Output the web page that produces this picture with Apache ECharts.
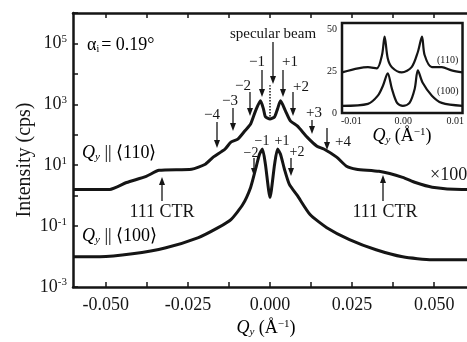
<!DOCTYPE html>
<html>
<head>
<meta charset="utf-8">
<script src="https://cdn.jsdelivr.net/npm/echarts@6/dist/echarts.min.js"></script>
<style>
  html, body { margin: 0; padding: 0; background: #fff; }
  #chart { width: 467px; height: 342px; }
</style>
</head>
<body>
<div id="chart"></div>
<script>
// main panel: Qy (1/A) and intensity (cps), Qy || <110> is shifted x100
var q110 = [-0.06, -0.0488, -0.0437, -0.0377, -0.0338, -0.0239, -0.0197, -0.0173, -0.0137, -0.0119, -0.0098, -0.0077, -0.0059, -0.0044, -0.0029, -0.0020, -0.0014, 0, 0.0014, 0.0023, 0.0032, 0.0047, 0.0062, 0.0083, 0.0113, 0.0143, 0.0164, 0.0203, 0.0233, 0.0263, 0.0332, 0.0404, 0.0443, 0.0494, 0.0584, 0.06];
var i110 = [1.6, 1.6, 2.7, 4.3, 6.8, 7.4, 10.8, 18.4, 33.8, 57.5, 72, 133, 227, 610, 1300, 710, 390, 330, 390, 710, 1300, 610, 285, 195, 84, 42, 34, 18.4, 9.3, 7.4, 6.3, 4.0, 2.7, 1.9, 1.6, 1.6];
var q100 = [-0.06, -0.0518, -0.0419, -0.0317, -0.0218, -0.0158, -0.0119, -0.0083, -0.0059, -0.0044, -0.0032, -0.0023, -0.0014, 0, 0.0014, 0.0023, 0.0032, 0.0044, 0.0059, 0.0083, 0.0122, 0.0173, 0.0242, 0.0323, 0.0404, 0.0494, 0.0584, 0.06];
var i100 = [0.0098, 0.0098, 0.0123, 0.0195, 0.042, 0.089, 0.164, 0.51, 1.87, 7.4, 23, 34, 10.8, 0.88, 10.8, 34, 23, 7.4, 2.35, 1.02, 0.24, 0.089, 0.036, 0.0167, 0.0098, 0.0078, 0.0078, 0.0078];
// specular beam (dotted)
var qSpec = [0, 0];
var iSpec = [400, 4200];

// inset: linear intensity
var qIn110 = [-0.0118, -0.0087, -0.0068, -0.0051, -0.0041, -0.0036, -0.0030, -0.0022, -0.0003, 0.0016, 0.0028, 0.0036, 0.0041, 0.0055, 0.0074, 0.0093, 0.0114];
var iIn110 = [24.4, 26.8, 27.5, 26.8, 34.8, 45.8, 32.9, 27.5, 24.4, 27.5, 36.6, 45.8, 34.8, 27.5, 27.5, 25.6, 24.4];
var qIn100 = [-0.0118, -0.0068, -0.0049, -0.0039, -0.0030, -0.0022, -0.0012, -0.0001, 0.0012, 0.0022, 0.0028, 0.0037, 0.0055, 0.0074, 0.0114];
var iIn100 = [4.3, 5.5, 10.4, 16.5, 23.8, 14.6, 6.1, 4.3, 6.1, 14.6, 25.6, 18.3, 10.4, 6.1, 4.3];

var xTicks = [-0.05, -0.0375, -0.025, -0.0125, 0, 0.0125, 0.025, 0.0375, 0.05];
var xLabels = [-0.05, -0.025, 0, 0.025, 0.05];
var insetXLabels = [-0.01, 0, 0.01];

function zip(a, b) {
    return a.map(function (v, i) { return [v, b[i]]; });
}

var INK = '#151515';
var SERIF = '"Liberation Serif", "Times New Roman", serif';

function txt(x, y, text, size, align) {
    return {
        type: 'text', x: x, y: y, z: 10,
        style: {
            text: text, fill: INK, font: size + 'px ' + SERIF,
            textAlign: align || 'center', textVerticalAlign: 'middle'
        }
    };
}

// vertical arrow from y1 to y2 (head at y2)
function arrow(x, y1, y2) {
    var d = y2 > y1 ? 1 : -1;
    return {
        type: 'group', z: 10,
        children: [
            { type: 'line', shape: { x1: x, y1: y1, x2: x, y2: y2 - d * 5 }, style: { stroke: INK, lineWidth: 1.3 } },
            { type: 'polygon', shape: { points: [[x - 3, y2 - d * 8], [x + 3, y2 - d * 8], [x, y2]] }, style: { fill: INK } }
        ]
    };
}

var subRich = {
    n: { fontSize: 18, fontFamily: SERIF, color: INK },
    q: { fontSize: 18, fontFamily: SERIF, fontStyle: 'italic', color: INK },
    sub: { fontSize: 11, fontFamily: SERIF, fontStyle: 'italic', color: INK, padding: [8, 0, 0, 0] },
    sup: { fontSize: 11, fontFamily: SERIF, color: INK, padding: [0, 0, 8, 0] }
};

var chart = echarts.init(document.getElementById('chart'));

var yName = txt(25, 160, 'Intensity (cps)', 20);
yName.rotation = Math.PI / 2;

var option = {
    backgroundColor: '#fff',
    animation: false,
    grid: [
        { left: 73, right: -5, top: 13, bottom: 55 },
        { left: 342, right: 4, top: 23, bottom: 229, show: true, backgroundColor: '#fff', borderColor: INK, borderWidth: 2.5, z: 5 }
    ],
    xAxis: [
        {
            type: 'value', gridIndex: 0, min: -0.06, max: 0.06,
            axisLine: { onZero: false, lineStyle: { color: INK, width: 2.5 } },
            axisTick: { inside: true, length: 5, customValues: xTicks, lineStyle: { color: INK, width: 1.5 } },
            axisLabel: {
                customValues: xLabels, margin: 9, color: INK, fontSize: 18, fontFamily: SERIF,
                formatter: function (v) { return v.toFixed(3); }
            },
            splitLine: { show: false }
        },
        {
            type: 'value', gridIndex: 0, position: 'top', min: -0.06, max: 0.06,
            axisLine: { onZero: false, lineStyle: { color: INK, width: 2.5 } },
            axisTick: { inside: true, length: 5, customValues: xTicks, lineStyle: { color: INK, width: 1.5 } },
            axisLabel: { show: false },
            splitLine: { show: false }
        },
        {
            type: 'value', gridIndex: 1, min: -0.0118, max: 0.0114,
            axisLine: { show: false, onZero: false },
            axisTick: { show: false },
            axisLabel: {
                customValues: insetXLabels, margin: 3, color: INK, fontSize: 10, fontFamily: SERIF,
                formatter: function (v) { return v.toFixed(2); }
            },
            splitLine: { show: false }
        }
    ],
    yAxis: [
        {
            type: 'log', gridIndex: 0, logBase: 10, min: 0.001, max: 1e6,
            axisLine: { onZero: false, lineStyle: { color: INK, width: 2.5 } },
            axisTick: { inside: true, length: 5, lineStyle: { color: INK, width: 1.5 } },
            axisLabel: {
                margin: 6, color: INK,
                formatter: function (v) {
                    var e = Math.round(Math.log10(v));
                    if (e % 2 === 0) return '';
                    return '{b|10}{s|' + e + '}';
                },
                rich: {
                    b: { fontSize: 18, fontFamily: SERIF, color: INK },
                    s: { fontSize: 11, fontFamily: SERIF, color: INK, padding: [0, 0, 9, 0] }
                }
            },
            splitLine: { show: false }
        },
        {
            type: 'value', gridIndex: 1, min: 0, max: 54, interval: 25,
            axisLine: { show: false, onZero: false },
            axisTick: { show: false },
            axisLabel: { margin: 5, color: INK, fontSize: 10, fontFamily: SERIF },
            splitLine: { show: false }
        }
    ],
    series: [
        {
            type: 'line', xAxisIndex: 0, yAxisIndex: 0, data: zip(q110, i110),
            showSymbol: false, smooth: 0.2, lineStyle: { color: INK, width: 3 }
        },
        {
            type: 'line', xAxisIndex: 0, yAxisIndex: 0, data: zip(q100, i100),
            showSymbol: false, smooth: 0.2, lineStyle: { color: INK, width: 3 }
        },
        {
            type: 'line', xAxisIndex: 0, yAxisIndex: 0, data: zip(qSpec, iSpec),
            showSymbol: false, lineStyle: { color: INK, width: 1.5, type: 'dotted' }
        },
        {
            type: 'line', xAxisIndex: 2, yAxisIndex: 1, data: zip(qIn110, iIn110),
            showSymbol: false, smooth: 0.3, lineStyle: { color: INK, width: 2.2 }, z: 6
        },
        {
            type: 'line', xAxisIndex: 2, yAxisIndex: 1, data: zip(qIn100, iIn100),
            showSymbol: false, smooth: 0.3, lineStyle: { color: INK, width: 2.2 }, z: 6
        }
    ],
    graphic: [
        // axis names
        yName,
        {
            type: 'text', x: 266, y: 328, z: 10,
            style: { text: '{q|Q}{sub|y}{n| (Å}{sup|−1}{n|)}', rich: subRich, textAlign: 'center', textVerticalAlign: 'middle' }
        },
        {
            type: 'text', x: 402, y: 136, z: 10,
            style: { text: '{q|Q}{sub|y}{n| (Å}{sup|−1}{n|)}', rich: subRich, textAlign: 'center', textVerticalAlign: 'middle' }
        },
        // annotations
        {
            type: 'text', x: 87, y: 45, z: 10,
            style: {
                text: '{a|α}{sub|i}{n|= 0.19°}', textVerticalAlign: 'middle',
                rich: {
                    a: { fontSize: 18, fontFamily: SERIF, color: INK },
                    sub: { fontSize: 10, fontFamily: SERIF, color: INK, padding: [8, 2, 0, 0] },
                    n: { fontSize: 18, fontFamily: SERIF, color: INK }
                }
            }
        },
        {
            type: 'text', x: 82, y: 153, z: 10,
            style: { text: '{q|Q}{sub|y}{n| || ⟨110⟩}', rich: subRich, textVerticalAlign: 'middle' }
        },
        {
            type: 'text', x: 82, y: 236, z: 10,
            style: { text: '{q|Q}{sub|y}{n| || ⟨100⟩}', rich: subRich, textVerticalAlign: 'middle' }
        },
        txt(273, 34, 'specular beam', 15),
        arrow(273, 42, 84),
        txt(257, 62, '−1', 15), arrow(262, 70, 97),
        txt(290, 62, '+1', 15), arrow(283, 70, 97),
        txt(243, 86, '−2', 15), arrow(250, 92, 116),
        txt(301, 87, '+2', 15), arrow(293, 92, 116),
        txt(230, 101, '−3', 15), arrow(233, 108, 131),
        txt(314, 113, '+3', 15), arrow(312, 120, 134),
        txt(212, 115, '−4', 15), arrow(217, 122, 148),
        txt(343, 142, '+4', 15), arrow(327, 128, 150),
        txt(262, 141, '−1', 14), txt(282, 141, '+1', 14),
        txt(251, 153, '−2', 14), arrow(254, 158, 176),
        txt(297, 152, '+2', 14), arrow(291, 158, 176),
        arrow(162, 201, 177), txt(162, 212, '111 CTR', 18),
        arrow(383, 201, 175), txt(385, 212, '111 CTR', 18),
        txt(430, 175, '×100', 18, 'left'),
        // inset labels
        txt(437, 60, '(110)', 10, 'left'),
        txt(437, 91, '(100)', 10, 'left')
    ]
};

chart.setOption(option);
</script>
</body>
</html>
